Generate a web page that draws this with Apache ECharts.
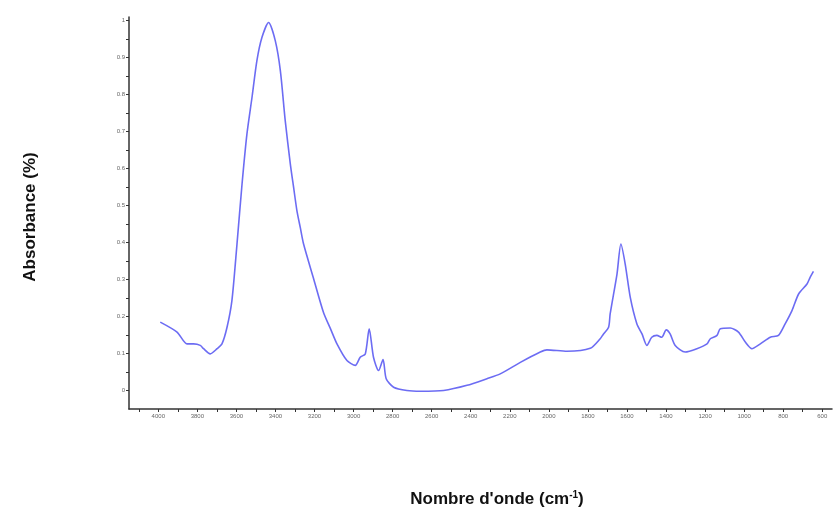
<!DOCTYPE html>
<html>
<head>
<meta charset="utf-8">
<script src="https://cdn.jsdelivr.net/npm/echarts@6/dist/echarts.min.js"></script>
<style>html,body{margin:0;padding:0;background:#fff}#c{width:835px;height:514px}</style>
</head>
<body>
<div id="c"></div>
<script>
// Wavenumbers (cm-1) and absorbance
const wavenumbers = [3990,3904,3853,3819,3785,3768,3734,3699,3674,3648,3623,3597,3571,3546,3520,3495,3469,3435,3401,3375,3350,3324,3307,3290,3273,3256,3205,3154,3119,3085,3034,2991,2966,2940,2920,2898,2872,2849,2833,2795,2727,2658,2539,2419,2317,2249,2146,2044,2010,1907,1788,1737,1720,1694,1686,1651,1631,1609,1583,1549,1523,1498,1473,1447,1422,1399,1379,1353,1302,1242,1190,1173,1139,1122,1071,1029,994,960,917,866,824,790,755,721,678,662,645];
const absorbance = [0.185,0.158,0.126,0.126,0.122,0.113,0.099,0.113,0.126,0.171,0.243,0.396,0.559,0.694,0.793,0.892,0.955,0.995,0.946,0.865,0.730,0.613,0.549,0.486,0.441,0.396,0.303,0.211,0.168,0.126,0.081,0.068,0.090,0.099,0.167,0.090,0.054,0.084,0.032,0.009,0.000,-0.002,0.000,0.014,0.032,0.045,0.076,0.104,0.110,0.106,0.114,0.140,0.153,0.171,0.207,0.315,0.396,0.342,0.252,0.180,0.153,0.122,0.144,0.149,0.144,0.164,0.153,0.122,0.104,0.113,0.126,0.140,0.149,0.167,0.169,0.158,0.131,0.113,0.126,0.144,0.149,0.180,0.216,0.261,0.288,0.306,0.322];
const xLabels = [4000,3800,3600,3400,3200,3000,2800,2600,2400,2200,2000,1800,1600,1400,1200,1000,800,600];
const xTicks = [4100,4000,3900,3800,3700,3600,3500,3400,3300,3200,3100,3000,2900,2800,2700,2600,2500,2400,2300,2200,2100,2000,1900,1800,1700,1600,1500,1400,1300,1200,1100,1000,900,800,700,600];
const yLabels = [0,0.1,0.2,0.3,0.4,0.5,0.6,0.7,0.8,0.9,1];
const yTicks = [0,0.05,0.1,0.15,0.2,0.25,0.3,0.35,0.4,0.45,0.5,0.55,0.6,0.65,0.7,0.75,0.8,0.85,0.9,0.95,1];

const chart = echarts.init(document.getElementById('c'), null, {renderer:'canvas'});
const axisCol = '#333';
chart.setOption({
  animation:false,
  backgroundColor:'#fff',
  grid:{left:129, right:3, top:17, bottom:105},
  xAxis:{
    type:'value', inverse:true, min:550, max:4150,
    axisLine:{show:true, onZero:false, lineStyle:{color:axisCol, width:1.5}},
    axisTick:{show:true, length:3, customValues:xTicks, lineStyle:{color:axisCol}},
    axisLabel:{show:true, customValues:xLabels, formatter:v=>String(v), fontSize:6, color:'#666', margin:4, fontFamily:'Liberation Sans'},
    splitLine:{show:false}
  },
  yAxis:{
    type:'value', min:-0.05, max:1.01,
    axisLine:{show:true, onZero:false, lineStyle:{color:axisCol, width:1.5}},
    axisTick:{show:true, length:3, customValues:yTicks, lineStyle:{color:axisCol}},
    axisLabel:{show:true, customValues:yLabels, formatter:v=>String(v), fontSize:6, color:'#666', margin:4, fontFamily:'Liberation Sans'},
    splitLine:{show:false}
  },
  series:[{
    type:'line', showSymbol:false, smooth:0.25,
    data: wavenumbers.map((w,i)=>[w, absorbance[i]]),
    lineStyle:{color:'#5c5cf2', width:1.6, opacity:0.9}
  }],
  graphic:[
    {type:'text', x:30, y:217, rotation:Math.PI/2, origin:[0,0],
      style:{text:'Absorbance (%)', font:'bold 17px "Liberation Sans", Arial', fill:'#111', align:'center', verticalAlign:'middle'}},
    {type:'text', x:497, y:499,
      style:{text:"{a|Nombre d'onde (cm}{s|-1}{a|)}", align:'center', verticalAlign:'middle',
        rich:{a:{font:'bold 17px "Liberation Sans", Arial', fill:'#111'}, s:{font:'bold 10px "Liberation Sans", Arial', fill:'#111', verticalAlign:'top', padding:[0,0,8,0]}}}}
  ]
});
</script>
</body>
</html>
